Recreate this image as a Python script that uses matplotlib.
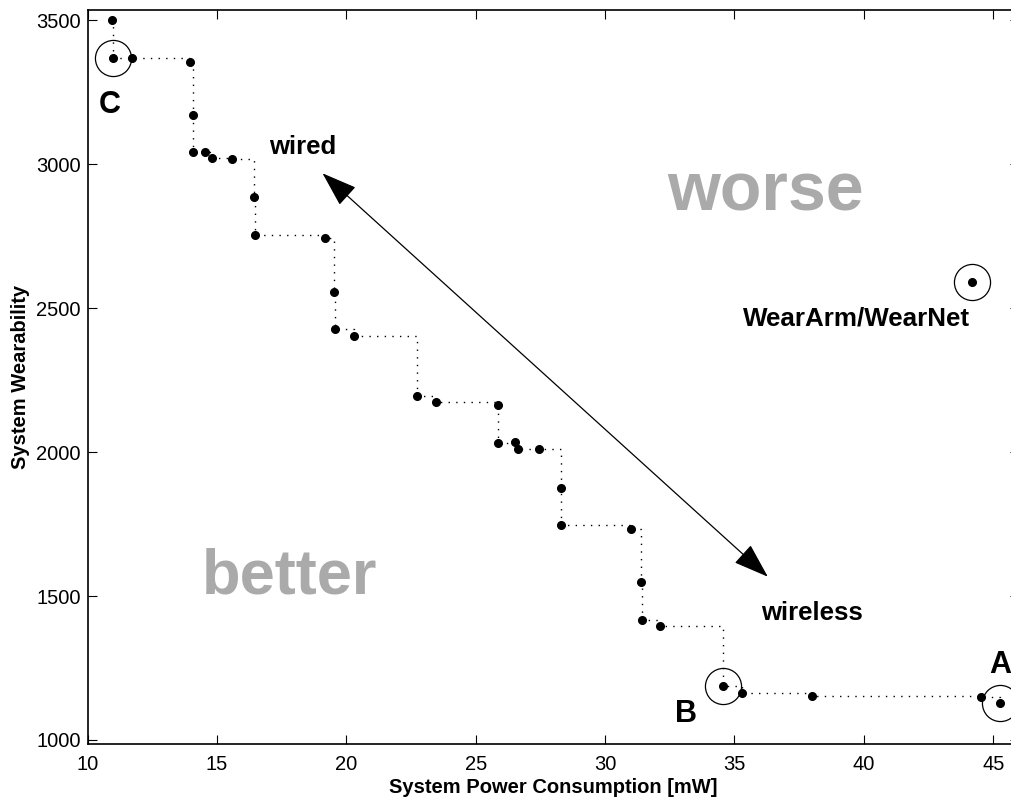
import matplotlib
matplotlib.use("Agg")
import matplotlib.pyplot as plt

plt.rcParams['font.family'] = ['Liberation Sans', 'DejaVu Sans']

# === DATA ===
power = [10.96, 10.97, 11.73, 13.95, 14.07, 14.08, 14.54, 14.82, 15.59, 16.45,
         16.47, 19.18, 19.54, 19.57, 20.31, 22.73, 23.47, 25.87, 25.88, 26.52,
         26.63, 27.44, 28.28, 28.30, 31.01, 31.37, 31.41, 32.14, 34.55, 35.31,
         37.99, 44.53, 45.27]
wearability = [3500, 3370, 3367, 3355, 3171, 3042, 3043, 3020, 3017, 2884,
               2755, 2742, 2557, 2427, 2404, 2195, 2173, 2163, 2032, 2034,
               2009, 2009, 1874, 1745, 1734, 1548, 1418, 1396, 1188, 1164,
               1153, 1149, 1127]

# circled designs: C, B, A
marked_power = [10.97, 34.55, 45.27]
marked_wear = [3370, 1188, 1127]
marked_names = ["C", "B", "A"]

# reference system
ref_power = 44.18
ref_wear = 2591
ref_name = "WearArm/WearNet"

xticks = [10, 15, 20, 25, 30, 35, 40, 45]
yticks = [1000, 1500, 2000, 2500, 3000, 3500]

# === PLOT ===
fig = plt.figure(figsize=(10.11, 8.02), dpi=100)
ax = fig.add_axes([0.0866, 0.0723, 0.9214, 0.9152])

ax.plot(power, wearability, color='black', lw=1.0, linestyle=(0, (1, 4.5)),
        drawstyle='steps-post')
ax.plot(power, wearability, 'o', color='black', markersize=5.5, linestyle='none')

ax.plot(marked_power, marked_wear, 'o', mfc='none', mec='black', mew=0.9,
        markersize=26, linestyle='none', clip_on=False)
ax.plot([ref_power], [ref_wear], 'o', color='black', markersize=5.5)
ax.plot([ref_power], [ref_wear], 'o', mfc='none', mec='black', mew=0.9,
        markersize=26)

# letters next to the circled points
letter_pos = {"C": (10.87, 3177), "B": (33.13, 1062), "A": (45.27, 1233)}
for name in marked_names:
    lx, ly = letter_pos[name]
    ax.text(lx, ly, name, fontsize=22, fontweight='bold', ha='center',
            va='baseline', clip_on=False)

ax.text(35.34, 2441, ref_name, fontsize=18.7, fontweight='bold', ha='left',
        va='baseline')

# trade-off arrow
ax.annotate("", xy=(19.08, 2968), xytext=(36.29, 1567),
            arrowprops=dict(arrowstyle='<|-|>,head_length=1.6,head_width=0.55',
                            mutation_scale=14, color='black', lw=0.9,
                            shrinkA=0, shrinkB=0))
ax.text(17.02, 3035, "wired", fontsize=18.5, fontweight='bold', ha='left',
        va='baseline')
ax.text(36.03, 1417, "wireless", fontsize=18.5, fontweight='bold', ha='left',
        va='baseline')

ax.text(36.19, 2840, "worse", fontsize=49, fontweight='bold', color='#aaaaaa',
        ha='center', va='baseline')
ax.text(17.79, 1510, "better", fontsize=45.5, fontweight='bold', color='#aaaaaa',
        ha='center', va='baseline')

ax.set_xlim(10, 46)
ax.set_ylim(986, 3535)
ax.set_xticks(xticks)
ax.set_yticks(yticks)
ax.tick_params(direction='in', length=6.5, width=0.8, top=True, right=True,
               labelsize=14.5)
ax.tick_params(axis='x', pad=8)
ax.tick_params(axis='y', pad=5)
for s in ax.spines.values():
    s.set_linewidth(1.2)

ax.set_xlabel("System Power Consumption [mW]", fontsize=14.5, fontweight='bold',
              labelpad=3)
ax.set_ylabel("System Wearability", fontsize=14.5, fontweight='bold',
              labelpad=4)

fig.savefig("out.png", dpi=100)
